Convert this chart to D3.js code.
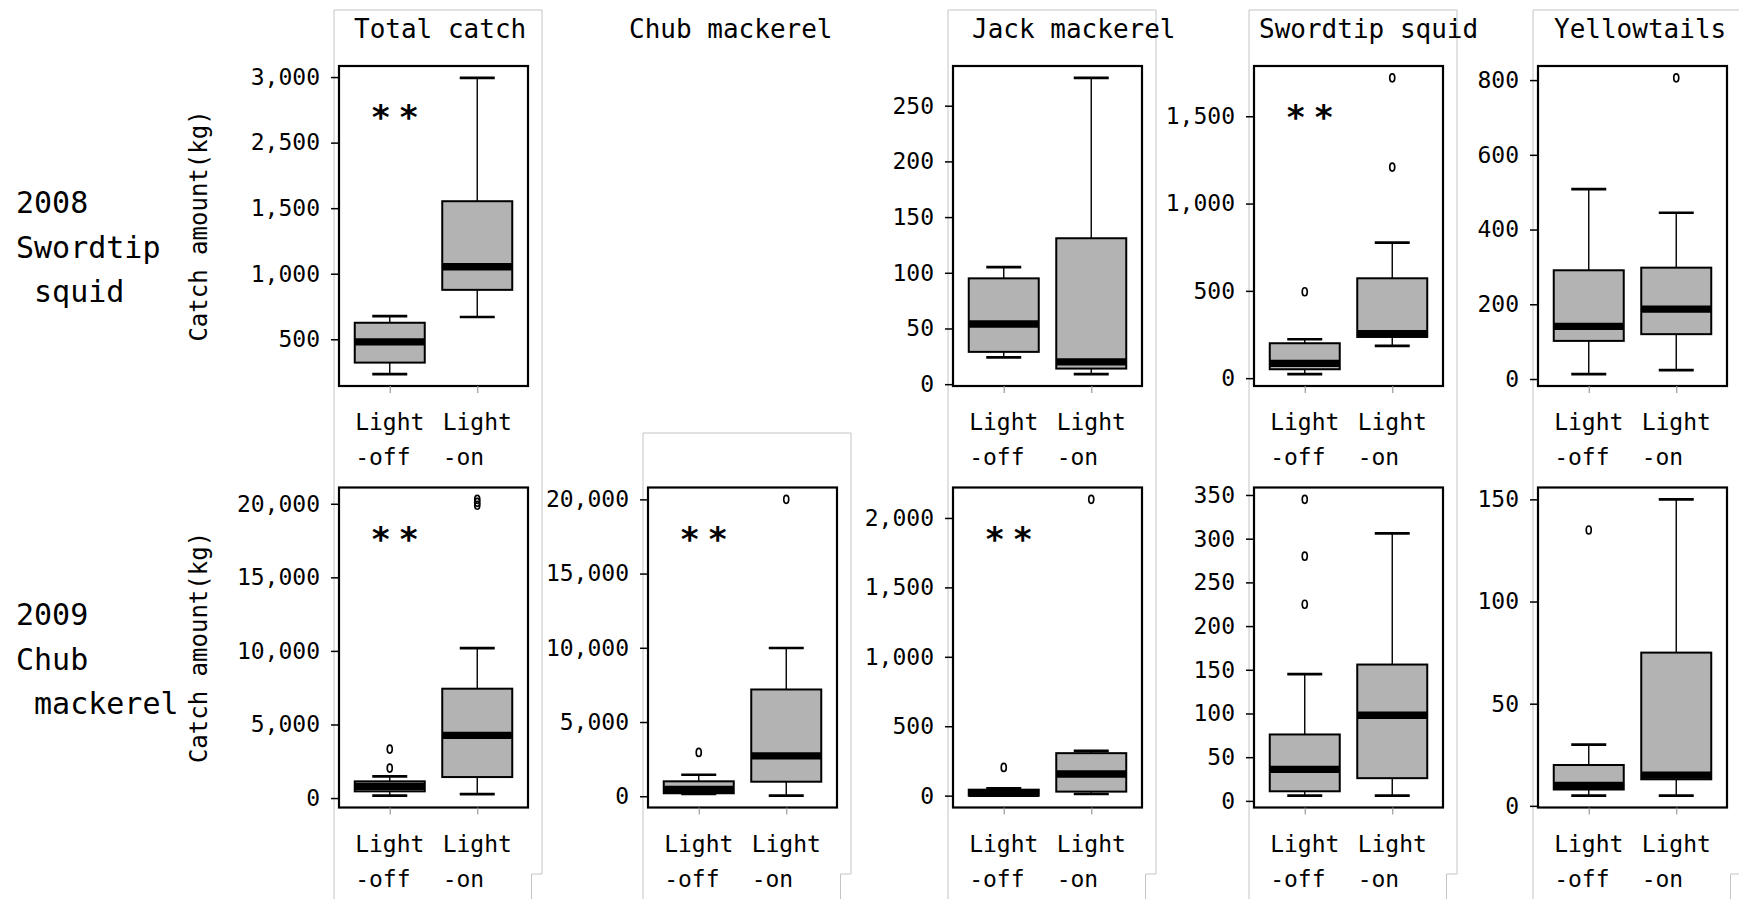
<!DOCTYPE html>
<html>
<head>
<meta charset="utf-8">
<script src="https://cdn.jsdelivr.net/npm/d3@7"></script>
<style>
  body { margin: 0; background: #fff; }
  svg { display: block; font-family: "DejaVu Sans Mono", "Liberation Mono", monospace; }
</style>
</head>
<body>
<svg id="chart" width="1739" height="899"></svg>
<script>
const groups = ["Light-off", "Light-on"];
const groupLines = [["Light", "-off"], ["Light", "-on"]];
const species = ["Total catch", "Chub mackerel", "Jack mackerel", "Swordtip squid", "Yellowtails"];
const rowLabels = [["2008", "Swordtip", " squid"], ["2009", "Chub", " mackerel"]];
const yTitle = "Catch amount(kg)";

// box stats: [low whisker, q1, median, q3, high whisker]
const total08Off = [234, 322, 480, 626, 677];
const total08On = [670, 877, 1053, 1553, 2494];
const jack08Off = [24, 29, 54, 95, 105];
const jack08On = [9, 14, 20, 131, 275];
const squid08Off = [23, 51, 85, 200, 223];
const squid08On = [185, 236, 255, 572, 776];
const yellow08Off = [13, 102, 141, 291, 508];
const yellow08On = [24, 120, 187, 298, 445];

const total09Off = [163, 455, 795, 1134, 1474];
const total09On = [272, 1427, 4259, 7432, 10190];
const chub09Off = [150, 201, 469, 1005, 1448];
const chub09On = [40, 979, 2721, 7192, 9987];
const jack09Off = [0, 0, 16, 43, 53];
const jack09On = [12, 29, 156, 306, 323];
const squid09Off = [6, 11, 36, 76, 145];
const squid09On = [6, 26, 98, 156, 306];
const yellow09Off = [5, 8, 10, 20, 30];
const yellow09On = [5, 13, 15, 75, 150];

// outliers
const squid08OffOut = [495];
const squid08OnOut = [1209, 1720];
const yellow08OnOut = [806];
const total09OffOut = [2038, 3329];
const total09OnOut = [19900, 20100, 20300];
const chub09OffOut = [2949];
const chub09OnOut = [20000];
const jack09OffOut = [203];
const jack09OnOut = [2134];
const squid09OffOut = [225, 280, 345];
const yellow09OffOut = [135];

// y ticks and their labels (the 2008 total panel is labelled as printed)
const total08Ticks = [500, 1000, 1500, 2000, 2500];
const total08TickLabels = ["500", "1,000", "1,500", "2,500", "3,000"];
const jack08Ticks = [0, 50, 100, 150, 200, 250];
const squid08Ticks = [0, 500, 1000, 1500];
const yellow08Ticks = [0, 200, 400, 600, 800];
const catch09Ticks = [0, 5000, 10000, 15000, 20000];
const jack09Ticks = [0, 500, 1000, 1500, 2000];
const squid09Ticks = [0, 50, 100, 150, 200, 250, 300, 350];
const yellow09Ticks = [0, 50, 100, 150];

const panels = [
  { row: 0, col: 0, off: total08Off, on: total08On, offOut: [], onOut: [], ticks: total08Ticks, labels: total08TickLabels, sig: true },
  { row: 0, col: 2, off: jack08Off, on: jack08On, offOut: [], onOut: [], ticks: jack08Ticks, sig: false },
  { row: 0, col: 3, off: squid08Off, on: squid08On, offOut: squid08OffOut, onOut: squid08OnOut, ticks: squid08Ticks, sig: true },
  { row: 0, col: 4, off: yellow08Off, on: yellow08On, offOut: [], onOut: yellow08OnOut, ticks: yellow08Ticks, sig: false },
  { row: 1, col: 0, off: total09Off, on: total09On, offOut: total09OffOut, onOut: total09OnOut, ticks: catch09Ticks, sig: true },
  { row: 1, col: 1, off: chub09Off, on: chub09On, offOut: chub09OffOut, onOut: chub09OnOut, ticks: catch09Ticks, sig: true },
  { row: 1, col: 2, off: jack09Off, on: jack09On, offOut: jack09OffOut, onOut: jack09OnOut, ticks: jack09Ticks, sig: true },
  { row: 1, col: 3, off: squid09Off, on: squid09On, offOut: squid09OffOut, onOut: [], ticks: squid09Ticks, sig: false },
  { row: 1, col: 4, off: yellow09Off, on: yellow09On, offOut: yellow09OffOut, onOut: [], ticks: yellow09Ticks, sig: false },
];

// layout
const colX = [339, 648, 953, 1254, 1538];
const rowY = [66, 487.5];
const boxW = 189, boxH = 320;
const titleNudge = [15, -19, 19, 5, 16];
const frameTop = [10, 433, 10, 10, 10];
const rowLabelBase = [213, 625];
const tickFont = 23;
const charW = 0.602 * tickFont;

const svg = d3.select("#chart");

// light grey panel frames
svg.append("g").selectAll("path")
  .data(frameTop)
  .join("path")
  .attr("fill", "none")
  .attr("stroke", "#c4c4c4")
  .attr("stroke-width", 1)
  .attr("d", function (t, i) {
    const l = colX[i] - 5, r = colX[i] + boxW + 14;
    return `M${l},899V${t}H${r}V874H${r - 10.5}V899`;
  });

// column titles
svg.append("g").selectAll("text")
  .data(species)
  .join("text")
  .attr("x", function (d, i) { return colX[i] + titleNudge[i] })
  .attr("y", 38)
  .attr("font-size", 26)
  .text(function (d) { return d });

// row labels
rowLabels.forEach(function (lines, r) {
  svg.append("text")
    .attr("font-size", 30)
    .attr("xml:space", "preserve")
    .style("white-space", "pre")
    .selectAll("tspan")
    .data(lines)
    .join("tspan")
    .attr("x", 16)
    .attr("y", function (d, i) { return rowLabelBase[r] + i * 44.5 })
    .text(function (d) { return d });
});

// y titles on the first column
rowY.forEach(function (top) {
  svg.append("text")
    .attr("transform", `translate(207,${top + boxH / 2}) rotate(-90)`)
    .attr("text-anchor", "middle")
    .attr("font-size", 24)
    .text(yTitle);
});

panels.forEach(drawPanel);

function drawPanel(p) {
  const g = svg.append("g");
  const left = colX[p.col], top = rowY[p.row];
  const all = [...p.off, ...p.on, ...p.offOut, ...p.onOut];
  const [lo, hi] = d3.extent(all);
  const pad = 0.04 * (hi - lo);
  const y = d3.scaleLinear().domain([lo - pad, hi + pad]).range([top + boxH, top]);
  const x = d3.scalePoint().domain(groups).range([left, left + boxW]).padding(0.58);
  const hw = 0.4 * x.step();

  const series = [
    { g: groups[0], s: p.off, out: p.offOut, lines: groupLines[0] },
    { g: groups[1], s: p.on, out: p.onOut, lines: groupLines[1] },
  ];

  const b = g.selectAll("g.box").data(series).join("g").attr("class", "box");

  // whiskers
  b.append("line")
    .attr("x1", function (d) { return x(d.g) }).attr("x2", function (d) { return x(d.g) })
    .attr("y1", function (d) { return y(d.s[0]) }).attr("y2", function (d) { return y(d.s[1]) })
    .attr("stroke", "#000").attr("stroke-width", 1.4);
  b.append("line")
    .attr("x1", function (d) { return x(d.g) }).attr("x2", function (d) { return x(d.g) })
    .attr("y1", function (d) { return y(d.s[3]) }).attr("y2", function (d) { return y(d.s[4]) })
    .attr("stroke", "#000").attr("stroke-width", 1.4);
  // staples
  b.selectAll("line.cap")
    .data(function (d) { return [d.s[0], d.s[4]].map(function (v) { return { g: d.g, v: v } }) })
    .join("line").attr("class", "cap")
    .attr("x1", function (d) { return x(d.g) - hw / 2 }).attr("x2", function (d) { return x(d.g) + hw / 2 })
    .attr("y1", function (d) { return y(d.v) }).attr("y2", function (d) { return y(d.v) })
    .attr("stroke", "#000").attr("stroke-width", 2.7);
  // box
  b.append("rect")
    .attr("x", function (d) { return x(d.g) - hw })
    .attr("width", 2 * hw)
    .attr("y", function (d) { return y(d.s[3]) })
    .attr("height", function (d) { return y(d.s[1]) - y(d.s[3]) })
    .attr("fill", "#b3b3b3")
    .attr("stroke", "#000").attr("stroke-width", 2);
  // median
  b.append("line")
    .attr("x1", function (d) { return x(d.g) - hw }).attr("x2", function (d) { return x(d.g) + hw })
    .attr("y1", function (d) { return y(d.s[2]) }).attr("y2", function (d) { return y(d.s[2]) })
    .attr("stroke", "#000").attr("stroke-width", 7.3);
  // outliers
  b.selectAll("ellipse")
    .data(function (d) { return d.out.map(function (v) { return { g: d.g, v: v } }) })
    .join("ellipse")
    .attr("cx", function (d) { return x(d.g) })
    .attr("cy", function (d) { return y(d.v) })
    .attr("rx", 2.5).attr("ry", 4)
    .attr("fill", "none").attr("stroke", "#000").attr("stroke-width", 1.7);

  // plot frame
  g.append("rect")
    .attr("x", left).attr("y", top)
    .attr("width", boxW).attr("height", boxH)
    .attr("fill", "none").attr("stroke", "#000").attr("stroke-width", 2.2);

  // y axis
  const fmt = d3.format(",");
  const ya = g.append("g")
    .attr("transform", `translate(${left},0)`)
    .call(d3.axisLeft(y).tickValues(p.ticks).tickSize(8).tickPadding(11)
      .tickFormat(function (d, i) { return p.labels ? p.labels[i] : fmt(d) }));
  ya.select(".domain").remove();
  ya.attr("font-family", null).attr("font-size", tickFont);
  ya.selectAll(".tick line").attr("stroke-width", 1.5);
  ya.selectAll(".tick text").attr("fill", "#000");

  // x ticks
  const xa = g.append("g")
    .attr("transform", `translate(0,${top + boxH})`)
    .call(d3.axisBottom(x).tickSize(7).tickFormat(""));
  xa.select(".domain").remove();
  xa.selectAll(".tick line").attr("stroke", "#9a9a9a").attr("stroke-width", 1.2);

  // x labels
  g.selectAll("text.xl")
    .data(series)
    .join("text").attr("class", "xl")
    .attr("font-size", tickFont)
    .selectAll("tspan")
    .data(function (d) { return d.lines.map(function (t) { return { g: d.g, t: t } }) })
    .join("tspan")
    .attr("x", function (d) { return x(d.g) - 2.5 * charW })
    .attr("y", function (d, i) { return top + boxH + 44 + i * 35 })
    .text(function (d) { return d.t });

  // significance marks
  if (p.sig) {
    g.selectAll("text.sig")
      .data([-14, 14])
      .join("text").attr("class", "sig")
      .attr("x", function (d) { return x(groups[0]) + 5 + d })
      .attr("y", top + 63)
      .attr("text-anchor", "middle")
      .attr("font-size", 34)
      .attr("font-weight", "bold")
      .text("*");
  }
}
</script>
</body>
</html>
